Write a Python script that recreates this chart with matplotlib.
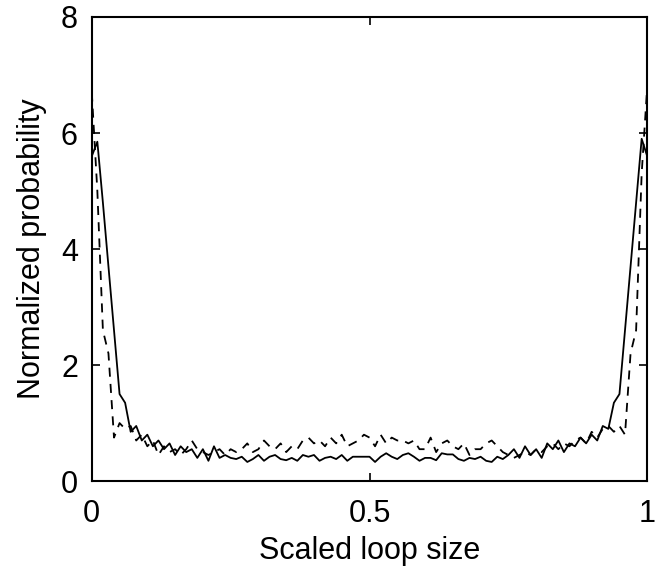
import numpy as np
import matplotlib
matplotlib.use('Agg')
from matplotlib import pyplot as plt

x = np.linspace(0, 1, 101)

solid = [
    5.6, 5.85, 4.8, 3.7, 2.6, 1.5, 1.35, 0.85, 0.95, 0.7,
    0.8, 0.6, 0.7, 0.55, 0.65, 0.45, 0.6, 0.5, 0.55, 0.4,
    0.55, 0.35, 0.6, 0.4, 0.45, 0.4, 0.38, 0.42, 0.33, 0.38,
    0.45, 0.35, 0.42, 0.45, 0.38, 0.36, 0.4, 0.35, 0.45, 0.42,
    0.45, 0.35, 0.4, 0.42, 0.38, 0.45, 0.35, 0.42, 0.42, 0.42,
    0.42, 0.33, 0.42, 0.48, 0.42, 0.38, 0.45, 0.48, 0.42, 0.35,
    0.4, 0.4, 0.36, 0.48, 0.46, 0.46, 0.38, 0.35, 0.4, 0.38,
    0.42, 0.35, 0.33, 0.42, 0.38, 0.45, 0.55, 0.4, 0.6, 0.45,
    0.55, 0.4, 0.65, 0.55, 0.7, 0.5, 0.65, 0.6, 0.75, 0.65,
    0.8, 0.7, 0.95, 0.9, 1.35, 1.5, 2.6, 3.7, 4.8, 5.9,
    5.6,
]

dashed = [
    6.7, 5.0, 2.6, 2.2, 0.75, 1.0, 0.9, 0.95, 0.7, 0.8,
    0.6, 0.7, 0.45, 0.6, 0.5, 0.55, 0.45, 0.55, 0.7, 0.55,
    0.5, 0.45, 0.5, 0.55, 0.45, 0.55, 0.5, 0.55, 0.65, 0.5,
    0.55, 0.7, 0.6, 0.55, 0.65, 0.5, 0.6, 0.55, 0.7, 0.75,
    0.65, 0.7, 0.6, 0.75, 0.65, 0.8, 0.6, 0.65, 0.7, 0.8,
    0.75, 0.6, 0.8, 0.65, 0.75, 0.7, 0.7, 0.65, 0.7, 0.55,
    0.55, 0.75, 0.5, 0.65, 0.7, 0.6, 0.55, 0.65, 0.45, 0.55,
    0.55, 0.65, 0.7, 0.6, 0.5, 0.45, 0.4, 0.45, 0.5, 0.45,
    0.55, 0.5, 0.6, 0.65, 0.55, 0.65, 0.6, 0.7, 0.75, 0.65,
    0.85, 0.75, 0.9, 0.95, 0.85, 0.95, 0.8, 2.2, 2.6, 5.3,
    6.8,
]

xticks = [0, 0.5, 1]
xticklabels = ['0', '0.5', '1']
yticks = [0, 2, 4, 6, 8]

plt.rcParams['font.family'] = ['Liberation Sans', 'DejaVu Sans']

fig = plt.figure(figsize=(6.7, 5.66), dpi=100)
ax = fig.add_axes([0.137, 0.150, 0.829, 0.820])

ax.plot(x, solid, color='black', lw=1.3, ls='-')
ax.plot(x, dashed, color='black', lw=1.3, ls=(0, (5, 4)))

ax.set_xlim(0, 1)
ax.set_ylim(0, 8)
ax.set_xticks(xticks)
ax.set_xticklabels(xticklabels)
ax.set_yticks(yticks)
ax.tick_params(direction='in', length=6, width=1.2, top=True, right=True,
               labelsize=22)
ax.tick_params(axis='x', pad=13)
ax.tick_params(axis='y', pad=10)
for s in ax.spines.values():
    s.set_linewidth(1.5)

ax.set_xlabel('Scaled loop size', fontsize=22, labelpad=5)
ax.set_ylabel('Normalized probability', fontsize=22, labelpad=10)

fig.savefig('out.png', dpi=100)
